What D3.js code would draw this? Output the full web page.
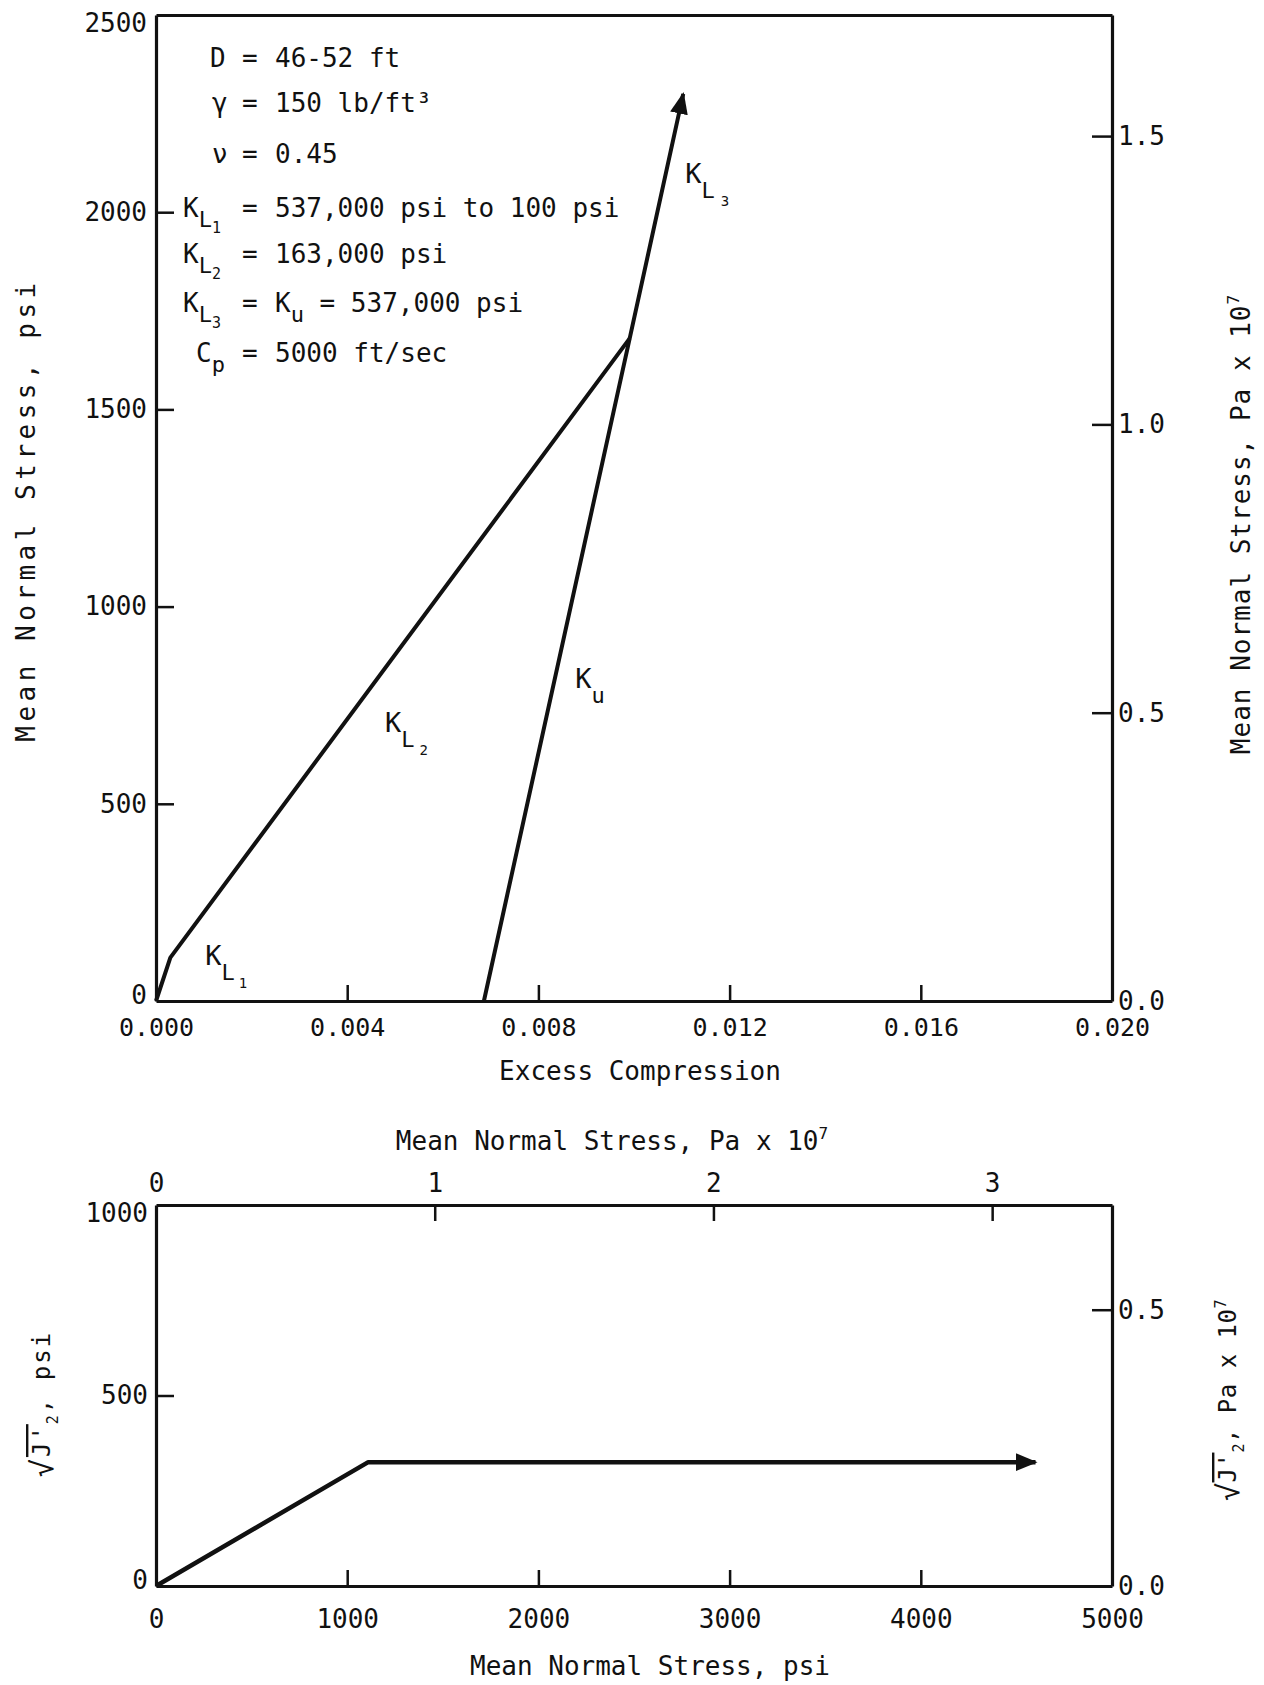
<!DOCTYPE html>
<html>
<head>
<meta charset="utf-8">
<script src="https://cdn.jsdelivr.net/npm/d3@7"></script>
<style>
  body { margin: 0; background: #fff; }
  svg text { font-family: "DejaVu Sans Mono", monospace; fill: #111; }
</style>
</head>
<body>
<svg id="chart" width="1264" height="1685"></svg>
<script>
"use strict";

// --- top panel: excess compression vs mean normal stress (psi)
var loadStrain   = [0, 0.0003, 0.00991];
var loadStress   = [0, 110, 1680];
var unloadStrain = [0.00686, 0.00991, 0.01103];
var unloadStress = [0, 1680, 2300];

var strainTicks  = [0, 0.004, 0.008, 0.012, 0.016, 0.020];
var stressTicks  = [0, 500, 1000, 1500, 2000, 2500];
var stressPaTicks = [0.0, 0.5, 1.0, 1.5];

// --- bottom panel: mean normal stress vs sqrt(J2')
var meanStress   = [0, 1110, 4600];
var sqrtJ2       = [0, 325, 325];

var meanTicks    = [0, 1000, 2000, 3000, 4000, 5000];
var meanPaTicks  = [0, 1, 2, 3];
var j2Ticks      = [0, 500, 1000];
var j2PaTicks    = [0.0, 0.5];

// --- parameter block (text pieces: [text, level]; level 1 = subscript, 2 = sub-subscript)
var paramSymbols = [
  [["D", 0]],
  [["\u03b3", 0]],
  [["\u03bd", 0]],
  [["K", 0], ["L", 1], ["1", 2]],
  [["K", 0], ["L", 1], ["2", 2]],
  [["K", 0], ["L", 1], ["3", 2]],
  [["C", 0], ["p", 1]]
];
var paramValues = [
  [["46-52 ft", 0]],
  [["150 lb/ft\u00b3", 0]],
  [["0.45", 0]],
  [["537,000 psi to 100 psi", 0]],
  [["163,000 psi", 0]],
  [["K", 0], ["u", 1], [" = 537,000 psi", 0]],
  [["5000 ft/sec", 0]]
];

// curve labels
var curveLabelText = [
  [["K", 0], ["L", 1], ["3", 2, 6]],
  [["K", 0], ["u", 1]],
  [["K", 0], ["L", 1], ["2", 2, 5]],
  [["K", 0], ["L", 1], ["1", 2, 4]]
];
var curveLabelStrain = [0.01107, 0.00877, 0.00479, 0.00103];
var curveLabelStress = [2074, 794, 682, 91];

var ink = "#111";
var svg = d3.select("#chart");

var defs = svg.append("defs");
defs.append("marker")
  .attr("id", "arrowUp")
  .attr("markerUnits", "userSpaceOnUse")
  .attr("viewBox", "0 -10 22 20")
  .attr("refX", 20)
  .attr("refY", 0)
  .attr("markerWidth", 22)
  .attr("markerHeight", 20)
  .attr("orient", "auto")
  .append("path")
  .attr("d", "M0,-9L22,0L0,9Z")
  .attr("fill", ink);

// scales
var xStrain   = d3.scaleLinear().domain([0, 0.02]).range([156, 1112]);
var yStress   = d3.scaleLinear().domain([0, 2500]).range([1001, 15]);
var yStressPa = d3.scaleLinear().domain([0, 1.71]).range([1001, 15]);

var xMean   = d3.scaleLinear().domain([0, 5000]).range([156, 1112]);
var xMeanPa = d3.scaleLinear().domain([0, 3.43]).range([156, 1112]);
var yJ2     = d3.scaleLinear().domain([0, 1000]).range([1586, 1205]);
var yJ2Pa   = d3.scaleLinear().domain([0, 0.6895]).range([1586, 1205]);

function drawAxis(axis, x, y, fontSize, noLine){
  var g = svg.append("g")
    .attr("transform", "translate(" + x + "," + y + ")")
    .call(axis)
    .attr("font-family", null)
    .attr("font-size", fontSize);

  g.select(".domain")
    .attr("stroke", ink)
    .attr("stroke-width", 3.2);

  g.selectAll(".tick line")
    .attr("stroke", ink)
    .attr("stroke-width", 2.5);

  g.selectAll(".tick text")
    .attr("fill", ink);

  g.selectAll(".tick")
    .filter(function(d){ return noLine.indexOf(d) >= 0; })
    .select("line")
    .remove();
  return g;
}

// end labels of the left axes sit a little inside the frame
function nudgeEnds(g, lo, hi){
  g.selectAll(".tick text")
    .filter(function(d){ return d === lo; })
    .attr("y", -6);
  g.selectAll(".tick text")
    .filter(function(d){ return d === hi; })
    .attr("y", 8);
}

function richText(parent, x, y, parts, sizes, shifts){
  var text = parent.append("text").attr("x", x).attr("y", y);
  var prev = 0;
  parts.forEach(function(p){
    var lvl = p[1];
    text.append("tspan")
      .attr("dy", shifts[lvl] - shifts[prev])
      .attr("dx", p[2] || 0)
      .attr("font-size", sizes[lvl])
      .text(p[0]);
    prev = lvl;
  });
  return text;
}

// ---------------- top panel
drawAxis(d3.axisBottom(xStrain).tickValues(strainTicks).tickSize(-16).tickSizeOuter(0)
  .tickPadding(17).tickFormat(d3.format(".3f")), 0, 1001, 25, [0, 0.02]);
drawAxis(d3.axisTop(xStrain).tickValues([]).tickSizeOuter(0), 0, 15, 25, []);
var leftTop = drawAxis(d3.axisLeft(yStress).tickValues(stressTicks).tickSize(-18).tickSizeOuter(0)
  .tickPadding(9).tickFormat(d3.format("d")), 156, 0, 26, [0, 2500]);
nudgeEnds(leftTop, 0, 2500);
drawAxis(d3.axisRight(yStressPa).tickValues(stressPaTicks).tickSize(-20).tickSizeOuter(0)
  .tickPadding(6).tickFormat(d3.format(".1f")), 1112, 0, 26, [0]);

var strainLine = d3.line()
  .x(function(d){ return xStrain(d[0]); })
  .y(function(d){ return yStress(d[1]); });

svg.append("path")
  .attr("d", strainLine(d3.zip(loadStrain, loadStress)))
  .attr("fill", "none")
  .attr("stroke", ink)
  .attr("stroke-width", 4)
  .attr("stroke-linejoin", "round");

svg.append("path")
  .attr("d", strainLine(d3.zip(unloadStrain, unloadStress)))
  .attr("fill", "none")
  .attr("stroke", ink)
  .attr("stroke-width", 4)
  .attr("stroke-linejoin", "round")
  .attr("marker-end", "url(#arrowUp)");

curveLabelText.forEach(function(parts, i){
  richText(svg, xStrain(curveLabelStrain[i]), yStress(curveLabelStress[i]), parts, [27, 22, 14], [0, 15, 23]);
});

// parameter block
var paramBaseline = [67, 112, 163, 217, 263, 312, 362];
var paramSymX = [210, 212, 212, 183, 183, 183, 196];
paramSymbols.forEach(function(parts, i){
  richText(svg, paramSymX[i], paramBaseline[i], parts, [26, 22, 15], [0, 10, 16]);
  svg.append("text").attr("x", 242).attr("y", paramBaseline[i]).attr("font-size", 26).text("=");
  richText(svg, 275, paramBaseline[i], paramValues[i], [26, 22, 15], [0, 10, 16]);
});

// titles
svg.append("text")
  .attr("x", 640).attr("y", 1080)
  .attr("text-anchor", "middle")
  .attr("font-size", 26)
  .text("Excess Compression");

svg.append("text")
  .attr("transform", "translate(35,510) rotate(-90)")
  .attr("text-anchor", "middle")
  .attr("font-size", 26)
  .attr("letter-spacing", 4.5)
  .text("Mean Normal Stress, psi");

var rightTitle = svg.append("text")
  .attr("transform", "translate(1250,524) rotate(-90)")
  .attr("text-anchor", "middle")
  .attr("font-size", 26)
  .attr("letter-spacing", 1);
rightTitle.append("tspan").text("Mean Normal Stress, Pa x 10");
rightTitle.append("tspan").attr("dy", -11).attr("font-size", 16).text("7");

// ---------------- bottom panel
drawAxis(d3.axisBottom(xMean).tickValues(meanTicks).tickSize(-16).tickSizeOuter(0)
  .tickPadding(24).tickFormat(d3.format("d")), 0, 1586, 26, [0, 5000]);
drawAxis(d3.axisTop(xMeanPa).tickValues(meanPaTicks).tickSize(-16).tickSizeOuter(0)
  .tickPadding(13).tickFormat(d3.format("d")), 0, 1205, 26, [0]);
var leftBottom = drawAxis(d3.axisLeft(yJ2).tickValues(j2Ticks).tickSize(-18).tickSizeOuter(0)
  .tickPadding(8).tickFormat(d3.format("d")), 156, 0, 26, [0, 1000]);
nudgeEnds(leftBottom, 0, 1000);
drawAxis(d3.axisRight(yJ2Pa).tickValues(j2PaTicks).tickSize(-20).tickSizeOuter(0)
  .tickPadding(6).tickFormat(d3.format(".1f")), 1112, 0, 26, [0]);

var meanLine = d3.line()
  .x(function(d){ return xMean(d[0]); })
  .y(function(d){ return yJ2(d[1]); });

svg.append("path")
  .attr("d", meanLine(d3.zip(meanStress, sqrtJ2)))
  .attr("fill", "none")
  .attr("stroke", ink)
  .attr("stroke-width", 4.5)
  .attr("stroke-linejoin", "round")
  .attr("marker-end", "url(#arrowUp)");

var topTitle = svg.append("text")
  .attr("x", 612).attr("y", 1150)
  .attr("text-anchor", "middle")
  .attr("font-size", 26);
topTitle.append("tspan").text("Mean Normal Stress, Pa x 10");
topTitle.append("tspan").attr("dy", -11).attr("font-size", 16).text("7");

svg.append("text")
  .attr("x", 650).attr("y", 1675)
  .attr("text-anchor", "middle")
  .attr("font-size", 26)
  .text("Mean Normal Stress, psi");

function rootJ2Title(x, y, rest, sup, spacing){
  var t = svg.append("text")
    .attr("transform", "translate(" + x + "," + y + ") rotate(-90)")
    .attr("text-anchor", "middle")
    .attr("font-size", 24)
    .attr("letter-spacing", spacing);
  t.append("tspan").attr("font-size", 30).attr("dy", 3).text("\u221a");
  t.append("tspan").attr("dy", -3).attr("text-decoration", "overline").text("J'");
  t.append("tspan").attr("dy", 8).attr("font-size", 15).text("2");
  t.append("tspan").attr("dy", -8).text(rest);
  if(sup){
    t.append("tspan").attr("dy", -10).attr("font-size", 15).text(sup);
  }
  return t;
}
rootJ2Title(50, 1404, ", psi", null, 2);
rootJ2Title(1236, 1400, ", Pa x 10", "7", 0.5);
</script>
</body>
</html>
